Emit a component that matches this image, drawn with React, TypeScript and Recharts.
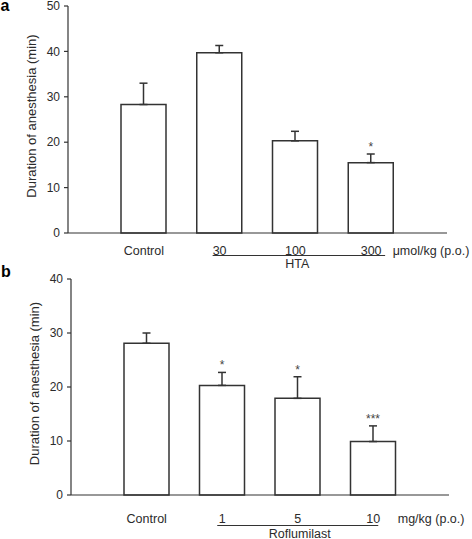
import React from 'react';
import { BarChart, Bar, XAxis, YAxis, ErrorBar, LabelList } from 'recharts';

// Panel a: HTA
const htaCategories = ['Control', '30', '100', '300'];
const htaMeans = [28.3, 39.7, 20.3, 15.5];
const htaSem = [4.7, 1.6, 2.1, 1.9];
const htaSig = ['', '', '', '*'];
const htaTicks = [0, 10, 20, 30, 40, 50];

// Panel b: Roflumilast
const roflCategories = ['Control', '1', '5', '10'];
const roflMeans = [28.1, 20.3, 17.9, 9.9];
const roflSem = [1.9, 2.4, 4.0, 2.9];
const roflSig = ['', '*', '*', '***'];
const roflTicks = [0, 10, 20, 30, 40];

const FONT = '"Liberation Sans", Arial, Helvetica, sans-serif';
const INK = '#2b2b2b';
const LINE = '#333';

const buildRows = (cats: string[], means: number[], sem: number[], sig: string[]) =>
  cats.map((c, i) => ({ label: c, mean: means[i], err: [0, sem[i]], sem: sem[i], sig: sig[i] }));

type TickCfg = {
  labelDy: number;
  lineDy: number;
  groupDy: number;
  lineStart: number;
  lineEnd: number;
  unitDx: number;
  group: string;
  unit: string;
};

const GroupTick = (props: any) => {
  const { x, y, payload, cfg } = props;
  const i = payload?.index ?? props.index;
  const c: TickCfg = cfg;
  return (
    <g>
      <text x={x} y={y + c.labelDy} textAnchor="middle" fontSize={12.5} fill={INK} fontFamily={FONT}>
        {payload.value}
      </text>
      {i >= 1 && (
        <line
          x1={i === 1 ? x - c.lineStart : x - 40}
          x2={i === 3 ? x + c.lineEnd : x + 40}
          y1={y + c.lineDy}
          y2={y + c.lineDy}
          stroke={LINE}
          strokeWidth={1}
        />
      )}
      {i === 2 && (
        <text x={x + 2} y={y + c.groupDy} textAnchor="middle" fontSize={12.5} fill={INK} fontFamily={FONT}>
          {c.group}
        </text>
      )}
      {i === 3 && (
        <text x={x + c.unitDx} y={y + c.labelDy} textAnchor="start" fontSize={12.5} fill={INK} fontFamily={FONT}>
          {c.unit}
        </text>
      )}
    </g>
  );
};

const YLabel = (props: any) => {
  const vb = props.viewBox || {};
  const cx = vb.x + 23.5;
  const cy = vb.y + vb.height / 2 - 3.5;
  return (
    <text
      transform={`translate(${cx},${cy}) rotate(-90)`}
      textAnchor="middle"
      dy="0.35em"
      fontSize={13}
      fill={INK}
      fontFamily={FONT}
    >
      Duration of anesthesia (min)
    </text>
  );
};

const SigLabel = (props: any) => {
  const { x, y, width, height, value, index, rows } = props;
  if (!value) return null;
  const row = rows[index];
  const pxPerUnit = height / row.mean;
  const errTop = y - row.sem * pxPerUnit;
  return (
    <text x={x + width / 2} y={errTop - 3} textAnchor="middle" fontSize={12} fill="#444" fontFamily={FONT}>
      {value}
    </text>
  );
};

type PanelProps = {
  rows: any[];
  ticks: number[];
  height: number;
  margin: { top: number; right: number; left: number; bottom: number };
  xHeight: number;
  cfg: TickCfg;
};

const Panel = ({ rows, ticks, height, margin, xHeight, cfg }: PanelProps) => (
  <BarChart width={472} height={height} data={rows} margin={margin}>
    <XAxis
      dataKey="label"
      type="category"
      interval={0}
      height={xHeight}
      padding={{ left: 38, right: 38 }}
      tickLine={false}
      tickSize={0}
      tickMargin={0}
      axisLine={{ stroke: LINE, strokeWidth: 1.2 }}
      tick={(p: any) => <GroupTick {...p} cfg={cfg} />}
    />
    <YAxis
      type="number"
      width={60}
      domain={[0, ticks[ticks.length - 1]]}
      ticks={ticks}
      interval={0}
      tickSize={4}
      tickMargin={4}
      axisLine={{ stroke: LINE, strokeWidth: 1.2 }}
      tickLine={{ stroke: LINE, strokeWidth: 1.2 }}
      tick={{ fontSize: 12, fill: INK, fontFamily: FONT }}
      label={<YLabel />}
    />
    <Bar dataKey="mean" fill="#ffffff" stroke={LINE} strokeWidth={1.5} barSize={45} isAnimationActive={false}>
      <ErrorBar dataKey="err" width={4} stroke={LINE} strokeWidth={1.5} direction="y" />
      <LabelList dataKey="sig" content={(p: any) => <SigLabel {...p} rows={rows} />} />
    </Bar>
  </BarChart>
);

export default function App() {
  const htaRows = buildRows(htaCategories, htaMeans, htaSem, htaSig);
  const roflRows = buildRows(roflCategories, roflMeans, roflSem, roflSig);
  return (
    <div style={{ position: 'absolute', left: 0, top: 0, width: 472, height: 539, background: '#fff', overflow: 'hidden' }}>
      <div style={{ position: 'absolute', left: 0, top: 0 }}>
        <Panel
          rows={htaRows}
          ticks={htaTicks}
          height={270}
          margin={{ top: 6, right: 25, left: 8, bottom: 7 }}
          xHeight={30}
          cfg={{
            labelDy: 21.5,
            lineDy: 22.5,
            groupDy: 35,
            lineStart: 7,
            lineEnd: 14,
            unitDx: 21.5,
            group: 'HTA',
            unit: 'μmol/kg (p.o.)',
          }}
        />
      </div>
      <div style={{ position: 'absolute', left: 0, top: 270 }}>
        <Panel
          rows={roflRows}
          ticks={roflTicks}
          height={269}
          margin={{ top: 9, right: 23, left: 11, bottom: 4 }}
          xHeight={40}
          cfg={{
            labelDy: 28.3,
            lineDy: 30.5,
            groupDy: 42.5,
            lineStart: 5,
            lineEnd: 5,
            unitDx: 24.5,
            group: 'Roflumilast',
            unit: 'mg/kg (p.o.)',
          }}
        />
      </div>
      <svg width={472} height={539} style={{ position: 'absolute', left: 0, top: 0, pointerEvents: 'none' }}>
        <text x={0.5} y={10.5} fontSize={16} fontWeight="bold" fill="#000" fontFamily={FONT}>a</text>
        <text x={1} y={276.7} fontSize={16} fontWeight="bold" fill="#000" fontFamily={FONT}>b</text>
      </svg>
    </div>
  );
}
